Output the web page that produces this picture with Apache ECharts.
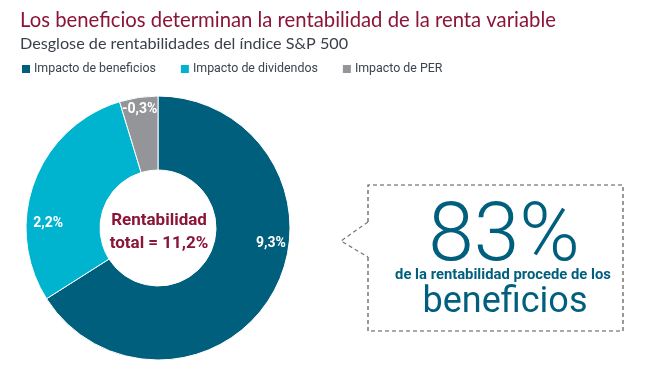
<!DOCTYPE html>
<html>
<head>
<meta charset="utf-8">
<script src="https://cdn.jsdelivr.net/npm/echarts@6/dist/echarts.min.js"></script>
<style>
html,body{margin:0;padding:0;background:#fff;}
#chart{width:664px;height:368px;}
</style>
</head>
<body>
<div id="chart"></div>
<script>
// Data
const categories = ['Impacto de beneficios', 'Impacto de dividendos', 'Impacto de PER'];
const sliceShares = [66.0, 29.3, 4.7];          // visual share of the ring (%)
const sliceLabels = ['9,3%', '2,2%', '-0,3%'];  // printed values
const colors = ['#005f7d', '#00b4d0', '#939598'];
const titleText = 'Los beneficios determinan la rentabilidad de la renta variable';
const subtitleText = 'Desglose de rentabilidades del índice S&P 500';
const centerText = 'Rentabilidad\ntotal = 11,2%';
const calloutBig = '83%';
const calloutSmall = 'de la rentabilidad procede de los';
const calloutWord = 'beneficios';

const labelOffsets = [[27, -32], [-18, 30], [-4, -22]];

const chart = echarts.init(document.getElementById('chart'), null, {renderer: 'canvas'});
const option = {
  animation: false,
  color: colors,
  title: [
    {text: titleText, left: 15, top: 5,
     textStyle: {fontFamily: 'Lato', fontSize: 20.3, fontWeight: 'normal', color: '#8a1538'}},
    {text: subtitleText, left: 15, top: 31,
     textStyle: {fontFamily: 'Lato', fontSize: 16.2, fontWeight: 'normal', color: '#3a3f4a'}}
  ],
  legend: {
    left: 15, top: 58, icon: 'rect', itemWidth: 10, itemHeight: 10, itemGap: 23,
    textStyle: {fontFamily: 'Roboto', fontSize: 12.4, color: '#3c4452', padding: [0,0,0,-2]},
    data: categories
  },
  series: [{
    type: 'pie',
    center: [158, 228],
    radius: [58, 132],
    startAngle: 90,
    clockwise: true,
    avoidLabelOverlap: false,
    itemStyle: {borderColor: '#fff', borderWidth: 1},
    label: {show: true, position: 'inside', color: '#fff', fontFamily: 'Roboto', fontWeight: 'bold', fontSize: 14},
    labelLine: {show: false},
    emphasis: {disabled: true},
    data: categories.map((c, i) => ({
      name: c, value: sliceShares[i],
      label: {formatter: sliceLabels[i], offset: labelOffsets[i]}
    }))
  }],
  graphic: [
    {type: 'text', position: [159, 209], z: 10, style: {text: centerText,
      fill: '#8a1538', font: 'bold 17px Roboto', textAlign: 'center', lineHeight: 23}},
    {type: 'polyline', shape: {points: [[368,222],[368,185],[623,185],[623,331],[368,331],[368,257]]},
      style: {fill: null, stroke: '#555', lineWidth: 1.2, lineDash: [4,3]}},
    {type: 'polyline', shape: {points: [[368,222],[341,241],[368,257]]},
      style: {fill: null, stroke: '#777', lineWidth: 1.2, lineDash: [4,3]}},
    {type: 'text', position: [504, 198], style: {text: calloutBig, fill: '#005f7d',
      font: '300 82px Roboto', textAlign: 'center', textVerticalAlign: 'top'}},
    {type: 'text', position: [503, 275], style: {text: calloutSmall, fill: '#005f7d',
      font: 'bold 14.8px Roboto', textAlign: 'center', textVerticalAlign: 'middle'}},
    {type: 'text', position: [505, 303], style: {text: calloutWord, fill: '#005f7d',
      font: 'normal 36px Roboto', textAlign: 'center', textVerticalAlign: 'middle'}}
  ]
};
chart.setOption(option);
</script>
</body>
</html>
